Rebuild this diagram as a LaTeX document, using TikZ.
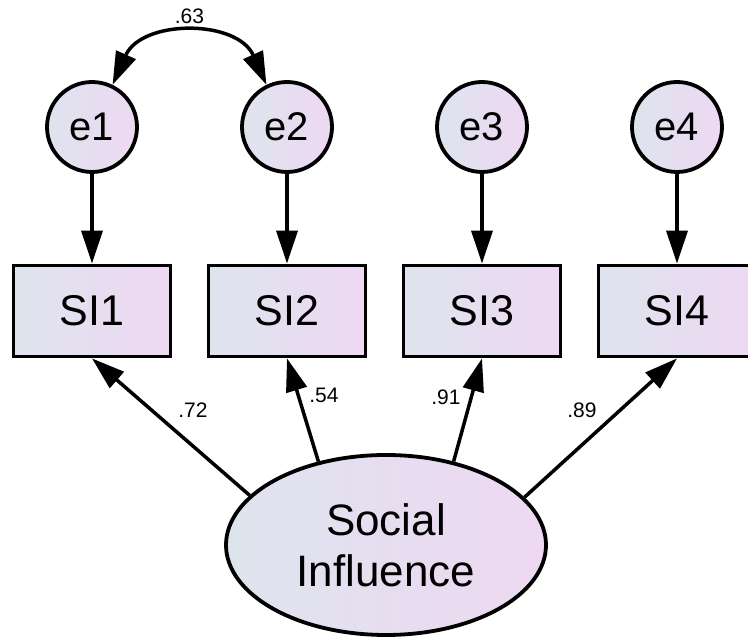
\documentclass[tikz,border=0pt]{standalone}
\usepackage{fontspec}
\setmainfont{Liberation Sans}
\usetikzlibrary{arrows.meta,shapes.geometric}

\begin{document}
\begin{tikzpicture}[%
  x=1pt, y=1pt,
  node distance=195pt,
  >={Triangle[length=33pt,width=21pt]},
  line width=3.5pt,
  item/.style={rectangle, draw, line width=3.8pt, minimum width=157pt, minimum height=91pt,
    left color=itemL, right color=itemR, font=\fontsize{43}{48}\selectfont},
  err/.style={circle, draw, line width=3.8pt, minimum size=90pt, inner sep=0pt,
    left color=itemL, right color=itemR, font=\fontsize{40}{46}\selectfont},
  latent/.style={ellipse, draw, line width=3.8pt, minimum width=320pt, minimum height=180pt,
    inner sep=0pt, align=center, left color=itemL, right color=itemR,
    font=\fontsize{44}{51}\selectfont},
  coef/.style={font=\fontsize{21}{23}\selectfont},
  ]
  \definecolor{itemL}{RGB}{222,228,238}
  \definecolor{itemR}{RGB}{238,216,242}
  \clip (0,0) rectangle (748,639);
  {
    % observed items
    \node[item] (SI1) at (92,328) {SI1};
    \node[item, right of=SI1,] (SI2) {SI2};
    \node[item, right of=SI2,] (SI3) {SI3};
    \node[item, right of=SI3,] (SI4) {SI4};
    % error terms
    \node[err, node distance=184pt, above of=SI1,] (e1) {e1};
    \node[err, node distance=184pt, above of=SI2,] (e2) {e2};
    \node[err, node distance=184pt, above of=SI3,] (e3) {e3};
    \node[err, node distance=184pt, above of=SI4,] (e4) {e4};
    % latent factor
    \node[latent] (social) at (386,94) {Social\\Influence};
    \draw[->] (e1) -- (SI1);
    \draw[->] (e2) -- (SI2);
    \draw[->] (e3) -- (SI3);
    \draw[->] (e4) -- (SI4);
    \draw[<->] (e1.64) to[out=66, in=114, looseness=1.2]
      node[above, coef, yshift=7pt] (c12) {.63} (e2.116);
    \draw[->] (social.160) -- (SI1.south);
    \draw[->] (social.129) -- (SI2.south);
    \draw[->] (social.51) -- (SI3.south);
    \draw[->] (social.19) -- (SI4.south);
    \node[coef] (l1) at (193,229) {.72};
    \node[coef] (l2) at (324,244) {.54};
    \node[coef] (l3) at (446,242) {.91};
    \node[coef] (l4) at (582,229) {.89};
  }
\end{tikzpicture}
\end{document}
